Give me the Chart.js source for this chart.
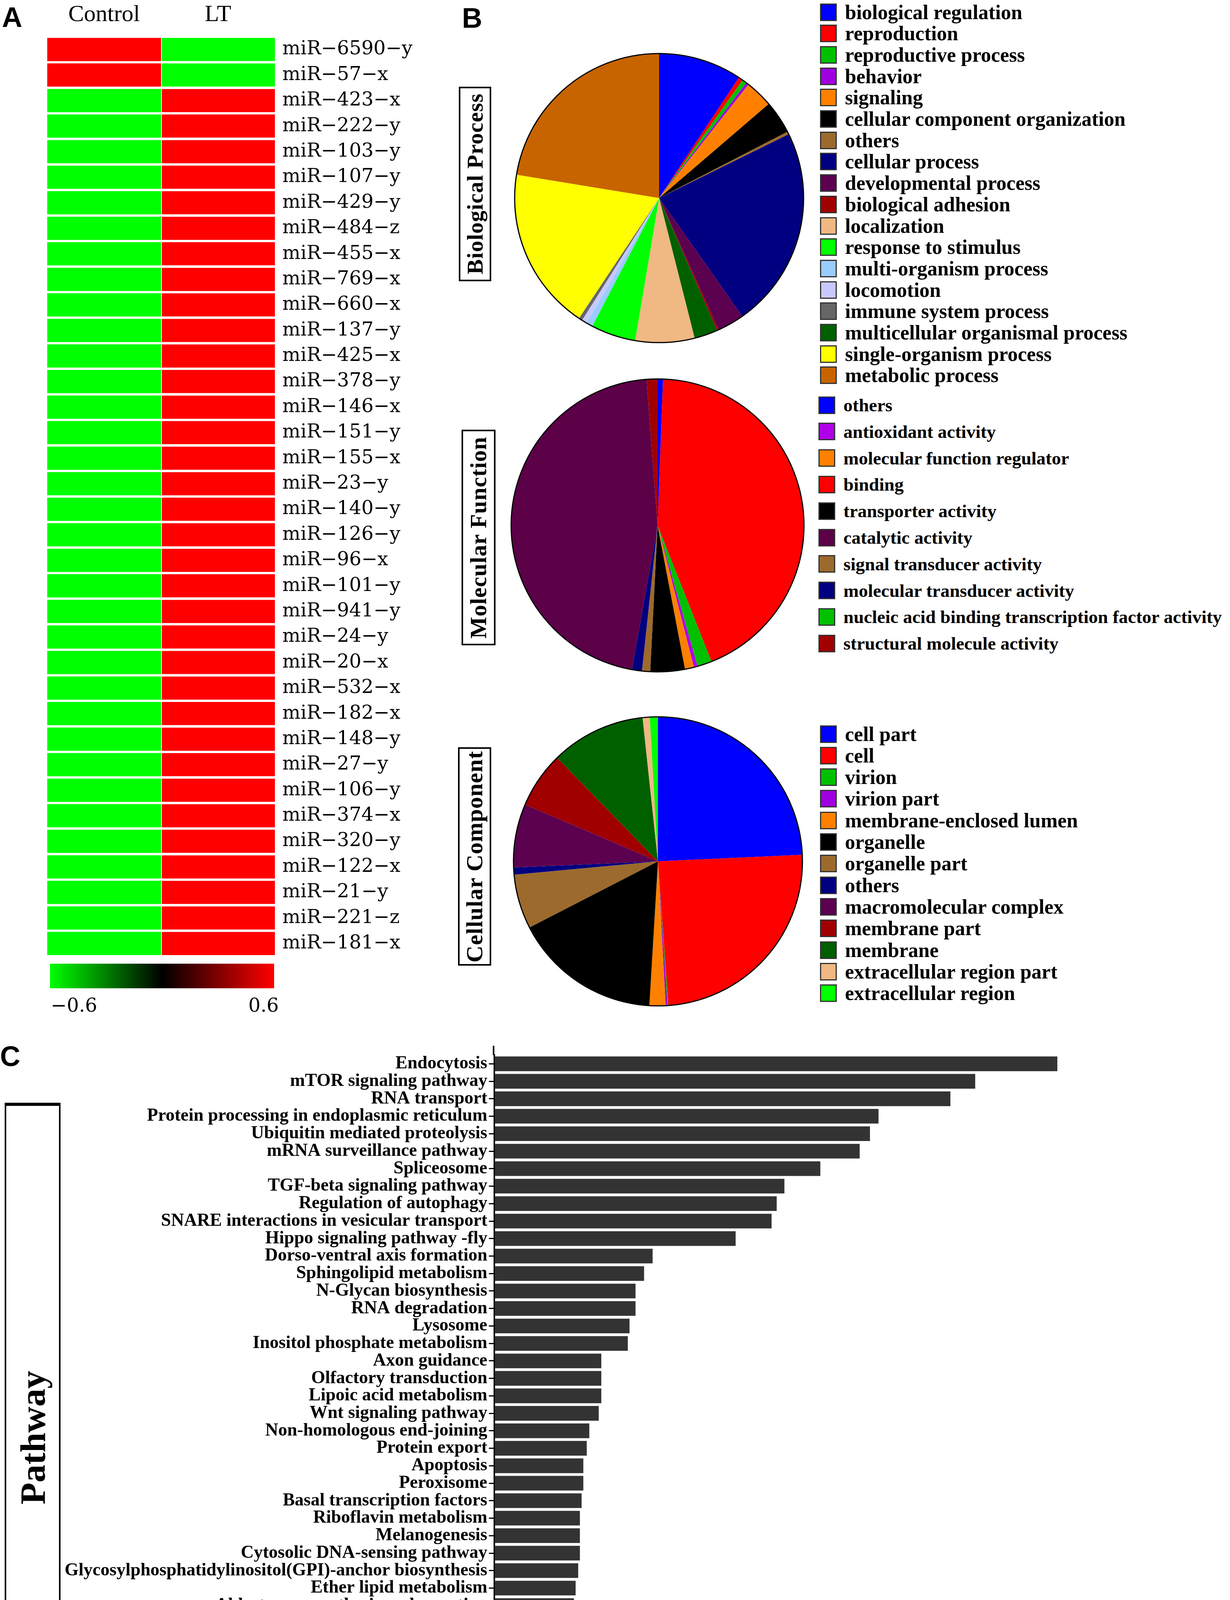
<!DOCTYPE html>
<html><head><meta charset="utf-8">
<script src="https://cdn.jsdelivr.net/npm/chart.js@4.4.0/dist/chart.umd.min.js"></script>
<style>
html,body{margin:0;padding:0;background:#fff;}
body{width:3150px;height:4808px;position:relative;overflow:hidden;font-family:'Liberation Serif',serif;}
#page{position:absolute;left:0;top:0;width:3150px;height:4808px;}
canvas{position:absolute;}
.panel{position:absolute;font-family:'Liberation Sans',Arial,sans-serif;font-weight:bold;font-size:72px;line-height:72px;color:#000;}
.vbox{position:absolute;border:4px solid #000;box-sizing:border-box;display:flex;align-items:center;justify-content:center;background:#fff;}
.vbox span{writing-mode:vertical-rl;transform:rotate(180deg);font-family:'Liberation Serif',serif;font-weight:bold;white-space:nowrap;color:#000;}
.leg{position:absolute;}
.leg .it{position:absolute;left:0;height:60px;display:flex;align-items:center;white-space:nowrap;font-family:'Liberation Serif',serif;font-weight:bold;font-size:52px;color:#000;}
.leg .sw{width:43px;height:45px;box-sizing:border-box;border:3px solid #333;margin-right:21px;flex:none;}
</style></head>
<body>
<div id="page">
<div class="panel" style="left:5px;top:8px;">A</div>
<div class="panel" style="left:1183px;top:10px;">B</div>
<div class="panel" style="left:0px;top:2668px;">C</div>

<canvas id="heat" width="1150" height="2650" style="left:0;top:0;"></canvas>

<div class="vbox" style="left:1175px;top:222px;width:83px;height:498px;"><span style="font-size:58px;letter-spacing:1px;">Biological Process</span></div>
<canvas id="pieBP" width="760" height="760" style="left:1308px;top:127px;"></canvas>
<div class="leg" id="legBP" style="left:2100px;top:0;"></div>

<div class="vbox" style="left:1182px;top:1100px;width:87px;height:552px;"><span style="font-size:59px;letter-spacing:1px;">Molecular Function</span></div>
<canvas id="pieMF" width="770" height="770" style="left:1299px;top:960px;"></canvas>
<div class="leg" id="legMF" style="left:2096px;top:0;"></div>

<div class="vbox" style="left:1173px;top:1913px;width:85px;height:559px;"><span style="font-size:60px;letter-spacing:1px;">Cellular Component</span></div>
<canvas id="pieCC" width="760" height="760" style="left:1305px;top:1825px;"></canvas>
<div class="leg" id="legCC" style="left:2100px;top:0;"></div>

<canvas id="bars" width="3150" height="2158" style="left:0;top:2650px;"></canvas>
<div class="vbox" style="left:12px;top:2823px;width:143px;height:1711px;border-top-width:8px;"><span style="font-size:92px;">Pathway</span></div>
</div>

<script>
// ---------- Panel A: heatmap ----------
const mirLabels = ['miR−6590−y','miR−57−x','miR−423−x','miR−222−y','miR−103−y','miR−107−y','miR−429−y','miR−484−z','miR−455−x','miR−769−x','miR−660−x','miR−137−y','miR−425−x','miR−378−y','miR−146−x','miR−151−y','miR−155−x','miR−23−y','miR−140−y','miR−126−y','miR−96−x','miR−101−y','miR−941−y','miR−24−y','miR−20−x','miR−532−x','miR−182−x','miR−148−y','miR−27−y','miR−106−y','miR−374−x','miR−320−y','miR−122−x','miR−21−y','miR−221−z','miR−181−x'];
const controlValues = [0.6,0.6,-0.6,-0.6,-0.6,-0.6,-0.6,-0.6,-0.6,-0.6,-0.6,-0.6,-0.6,-0.6,-0.6,-0.6,-0.6,-0.6,-0.6,-0.6,-0.6,-0.6,-0.6,-0.6,-0.6,-0.6,-0.6,-0.6,-0.6,-0.6,-0.6,-0.6,-0.6,-0.6,-0.6,-0.6];
const ltValues = [-0.6,-0.6,0.6,0.6,0.6,0.6,0.6,0.6,0.6,0.6,0.6,0.6,0.6,0.6,0.6,0.6,0.6,0.6,0.6,0.6,0.6,0.6,0.6,0.6,0.6,0.6,0.6,0.6,0.6,0.6,0.6,0.6,0.6,0.6,0.6,0.6];
const groupLabels = ['Control','LT'];
const colorMin = -0.6, colorMax = 0.6;
const colorScaleTicks = ['−0.6','0.6'];

// ---------- Panel B: GO pies (slice order as drawn, clockwise from top) ----------
const bpLabels = ['biological regulation','reproduction','reproductive process','behavior','signaling','cellular component organization','others','cellular process','developmental process','biological adhesion','multicellular organismal process','localization','response to stimulus','multi-organism process','locomotion','immune system process','single-organism process','metabolic process'];
const bpValues = [9.3,0.5,0.5,0.3,3.1,3.7,0.3,22.5,3.0,0.2,2.6,6.6,5.0,0.7,0.6,0.4,18.2,22.4];
const bpColors = ['#0000FF','#FF0000','#00C000','#A000E0','#FF8000','#000000','#9C6A2C','#000080','#5C0050','#A00000','#006000','#F0B882','#00FF00','#99CCFF','#C8C8FF','#666666','#FFFF00','#C86400'];
const bpLegendOrder = ['biological regulation','reproduction','reproductive process','behavior','signaling','cellular component organization','others','cellular process','developmental process','biological adhesion','localization','response to stimulus','multi-organism process','locomotion','immune system process','multicellular organismal process','single-organism process','metabolic process'];

const mfLabels = ['others','binding','nucleic acid binding transcription factor activity','antioxidant activity','molecular function regulator','transporter activity','signal transducer activity','molecular transducer activity','catalytic activity','structural molecule activity'];
const mfValues = [0.6,43.4,1.6,0.4,1.0,3.8,0.9,1.1,46.0,1.2];
const mfColors = ['#0000FF','#FF0000','#00C000','#B000E8','#FF8000','#000000','#9C6A2C','#000080','#5C0048','#A00000'];
const mfLegendOrder = ['others','antioxidant activity','molecular function regulator','binding','transporter activity','catalytic activity','signal transducer activity','molecular transducer activity','nucleic acid binding transcription factor activity','structural molecule activity'];

const ccLabels = ['cell part','cell','virion','virion part','membrane-enclosed lumen','organelle','organelle part','others','macromolecular complex','membrane part','membrane','extracellular region part','extracellular region'];
const ccValues = [24.3,24.6,0.1,0.2,1.8,16.5,6.1,0.8,7.1,6.3,10.6,0.8,0.9];
const ccColors = ['#0000FF','#FF0000','#00C000','#A000E0','#FF8000','#000000','#9C6A2C','#000080','#5C0050','#A00000','#006000','#F0B882','#00FF00'];
const ccLegendOrder = ccLabels.slice();

// ---------- Panel C: KEGG pathways ----------
const pathways = ['Endocytosis','mTOR signaling pathway','RNA transport','Protein processing in endoplasmic reticulum','Ubiquitin mediated proteolysis','mRNA surveillance pathway','Spliceosome','TGF-beta signaling pathway','Regulation of autophagy','SNARE interactions in vesicular transport','Hippo signaling pathway -fly','Dorso-ventral axis formation','Sphingolipid metabolism','N-Glycan biosynthesis','RNA degradation','Lysosome','Inositol phosphate metabolism','Axon guidance','Olfactory transduction','Lipoic acid metabolism','Wnt signaling pathway','Non-homologous end-joining','Protein export','Apoptosis','Peroxisome','Basal transcription factors','Riboflavin metabolism','Melanogenesis','Cytosolic DNA-sensing pathway','Glycosylphosphatidylinositol(GPI)-anchor biosynthesis','Ether lipid metabolism','Aldosterone synthesis and secretion','Mucin type O-glycan biosynthesis','Salivary secretion','p53 signaling pathway','alpha-Linolenic acid metabolism','Jak-STAT signaling pathway','NOD-like receptor signaling pathway','Cysteine and methionine metabolism','Dopaminergic synapse','Longevity regulating pathway - multiple species','FoxO signaling pathway'];
const negLog10Q = [6.58,5.62,5.33,4.49,4.39,4.27,3.81,3.39,3.30,3.24,2.82,1.85,1.75,1.65,1.65,1.58,1.56,1.25,1.25,1.25,1.22,1.11,1.08,1.04,1.04,1.02,1.00,1.00,1.00,0.98,0.95,0.93,0.88,0.81,0.73,0.72,0.71,0.63,0.62,0.62,0.60,0.56];
const xAxisMin = 0, xAxisMax = 8, xAxisStep = 2;

Chart.defaults.font.family = "'Liberation Serif', serif";
Chart.defaults.color = '#000';

function heatColor(v){
  const t = Math.max(-1, Math.min(1, v / colorMax));
  if (t >= 0) return 'rgb(' + Math.round(255*t) + ',0,0)';
  return 'rgb(0,' + Math.round(-255*t) + ',0)';
}

const colorbarPlugin = {
  id: 'colorbar',
  afterDraw(chart){
    const {ctx, chartArea: a} = chart;
    const x0 = a.left + 7, x1 = a.right - 2, y0 = a.bottom + 19, h = 63;
    const g = ctx.createLinearGradient(x0, 0, x1, 0);
    g.addColorStop(0, heatColor(colorMin));
    g.addColorStop(0.5, heatColor(0));
    g.addColorStop(1, heatColor(colorMax));
    ctx.save();
    ctx.fillStyle = g;
    ctx.fillRect(x0, y0, x1 - x0, h);
    ctx.fillStyle = '#000';
    ctx.font = "49px 'DejaVu Serif'";
    ctx.textBaseline = 'alphabetic';
    ctx.textAlign = 'left';
    ctx.fillText(colorScaleTicks[0], x0 + 2, a.bottom + 142);
    ctx.textAlign = 'right';
    ctx.fillText(colorScaleTicks[1], x1 + 12, a.bottom + 142);
    ctx.restore();
  }
};

new Chart(document.getElementById('heat'), {
  type: 'bar',
  data: {
    labels: mirLabels,
    datasets: [
      {label: groupLabels[0], data: controlValues.map(() => 1), backgroundColor: controlValues.map(heatColor), barPercentage: 0.91, categoryPercentage: 1, borderWidth: 0},
      {label: groupLabels[1], data: ltValues.map(() => 1), backgroundColor: ltValues.map(heatColor), barPercentage: 0.91, categoryPercentage: 1, borderWidth: {left: 2}, borderSkipped: false, borderColor: 'rgba(255,255,255,0.8)'}
    ]
  },
  options: {
    indexAxis: 'y', responsive: false, animation: false, devicePixelRatio: 1,
    layout: {padding: {left: 121, right: 0, top: 0, bottom: 202}},
    plugins: {legend: {display: false}, tooltip: {enabled: false}},
    scales: {
      x: {stacked: true, min: 0, max: 2, display: false},
      xTop: {type: 'category', labels: groupLabels, position: 'top', offset: true,
        grid: {display: false}, border: {display: false},
        ticks: {font: {size: 60}, color: '#000', padding: 12},
        afterFit(s){ s.height = 94; }},
      y: {stacked: true, position: 'right', grid: {display: false}, border: {display: false},
        ticks: {font: {family: "'DejaVu Serif', serif", size: 49}, color: '#000', padding: 11, autoSkip: false},
        afterFit(s){ s.width = 446; }}
    }
  },
  plugins: [colorbarPlugin]
});

const outlinePlugin = {
  id: 'outline',
  afterDatasetsDraw(chart){
    const arc = chart.getDatasetMeta(0).data[0];
    if (!arc) return;
    const ctx = chart.ctx;
    ctx.save();
    ctx.beginPath();
    ctx.arc(arc.x, arc.y, arc.outerRadius, 0, Math.PI * 2);
    ctx.lineWidth = 3;
    ctx.strokeStyle = '#000';
    ctx.stroke();
    ctx.restore();
  }
};

function makePie(id, labels, values, colors){
  return new Chart(document.getElementById(id), {
    type: 'pie',
    data: {labels: labels, datasets: [{data: values, backgroundColor: colors, borderWidth: 0}]},
    options: {responsive: false, animation: false, devicePixelRatio: 1, layout: {padding: 10},
      plugins: {legend: {display: false}, tooltip: {enabled: false}}},
    plugins: [outlinePlugin]
  });
}

function makeLegend(id, labels, colors, order, firstY, pitch, fontSize){
  const el = document.getElementById(id);
  order.forEach((name, i) => {
    const idx = labels.indexOf(name);
    const it = document.createElement('div');
    it.className = 'it';
    it.style.top = (firstY + pitch * i - 30) + 'px';
    it.style.fontSize = fontSize + 'px';
    const sw = document.createElement('div');
    sw.className = 'sw';
    sw.style.background = colors[idx];
    const tx = document.createElement('span');
    tx.textContent = name;
    it.appendChild(sw); it.appendChild(tx);
    el.appendChild(it);
  });
}

makePie('pieBP', bpLabels, bpValues, bpColors);
makePie('pieMF', mfLabels, mfValues, mfColors);
makePie('pieCC', ccLabels, ccValues, ccColors);
makeLegend('legBP', bpLabels, bpColors, bpLegendOrder, 31, 54.7, 52);
makeLegend('legMF', mfLabels, mfColors, mfLegendOrder, 1037, 67.8, 47);
makeLegend('legCC', ccLabels, ccColors, ccLegendOrder, 1879, 55.3, 52);

const axisTitlePlugin = {
  id: 'axisTitle',
  afterDraw(chart){
    const {ctx, chartArea: a} = chart;
    ctx.save();
    ctx.strokeStyle = '#000';
    ctx.lineWidth = 4;
    ctx.beginPath();
    ctx.moveTo(a.left - 2, a.top - 24);
    ctx.lineTo(a.left - 2, a.top);
    ctx.stroke();
    const cx = (a.left + a.right) / 2;
    const by = chart.height - 41;
    const sx = 1.25;
    const parts = [
      {t: '-log', f: "bold 80px 'Liberation Serif'", dy: 0},
      {t: '10', f: "bold 54px 'Liberation Serif'", dy: 16},
      {t: '(', f: "bold 80px 'Liberation Serif'", dy: 0},
      {t: 'q', f: "italic bold 80px 'Liberation Serif'", dy: 0},
      {t: '-value)', f: "bold 80px 'Liberation Serif'", dy: 0}
    ];
    let total = 0;
    parts.forEach(p => { ctx.font = p.f; p.w = ctx.measureText(p.t).width; total += p.w; });
    ctx.translate(cx, by);
    ctx.scale(sx, 1);
    let x = -total / 2;
    ctx.fillStyle = '#000';
    ctx.textBaseline = 'alphabetic';
    ctx.textAlign = 'left';
    parts.forEach(p => { ctx.font = p.f; ctx.fillText(p.t, x, p.dy); x += p.w; });
    ctx.restore();
  }
};

new Chart(document.getElementById('bars'), {
  type: 'bar',
  data: {labels: pathways, datasets: [{data: negLog10Q, backgroundColor: '#333333', barPercentage: 0.84, categoryPercentage: 1, borderWidth: 0}]},
  options: {
    indexAxis: 'y', responsive: false, animation: false, devicePixelRatio: 1,
    layout: {padding: {top: 51, right: 131, left: 0, bottom: 0}},
    plugins: {legend: {display: false}, tooltip: {enabled: false}},
    scales: {
      x: {min: xAxisMin, max: xAxisMax,
        ticks: {stepSize: xAxisStep, font: {size: 36}, color: '#000', maxRotation: 25, minRotation: 25, padding: 22},
        grid: {drawOnChartArea: false, tickLength: 16, color: '#000', lineWidth: 3},
        border: {color: '#000', width: 6},
        afterFit(s){ s.height = 228; }},
      y: {ticks: {font: {size: 46, weight: 'bold'}, color: '#000', autoSkip: false, padding: 4},
        grid: {drawOnChartArea: false, offset: false, tickLength: 14, color: '#000', lineWidth: 3},
        border: {color: '#000', width: 4},
        afterFit(s){ s.width = 1266; }}
    }
  },
  plugins: [axisTitlePlugin]
});
</script>
</body></html>
